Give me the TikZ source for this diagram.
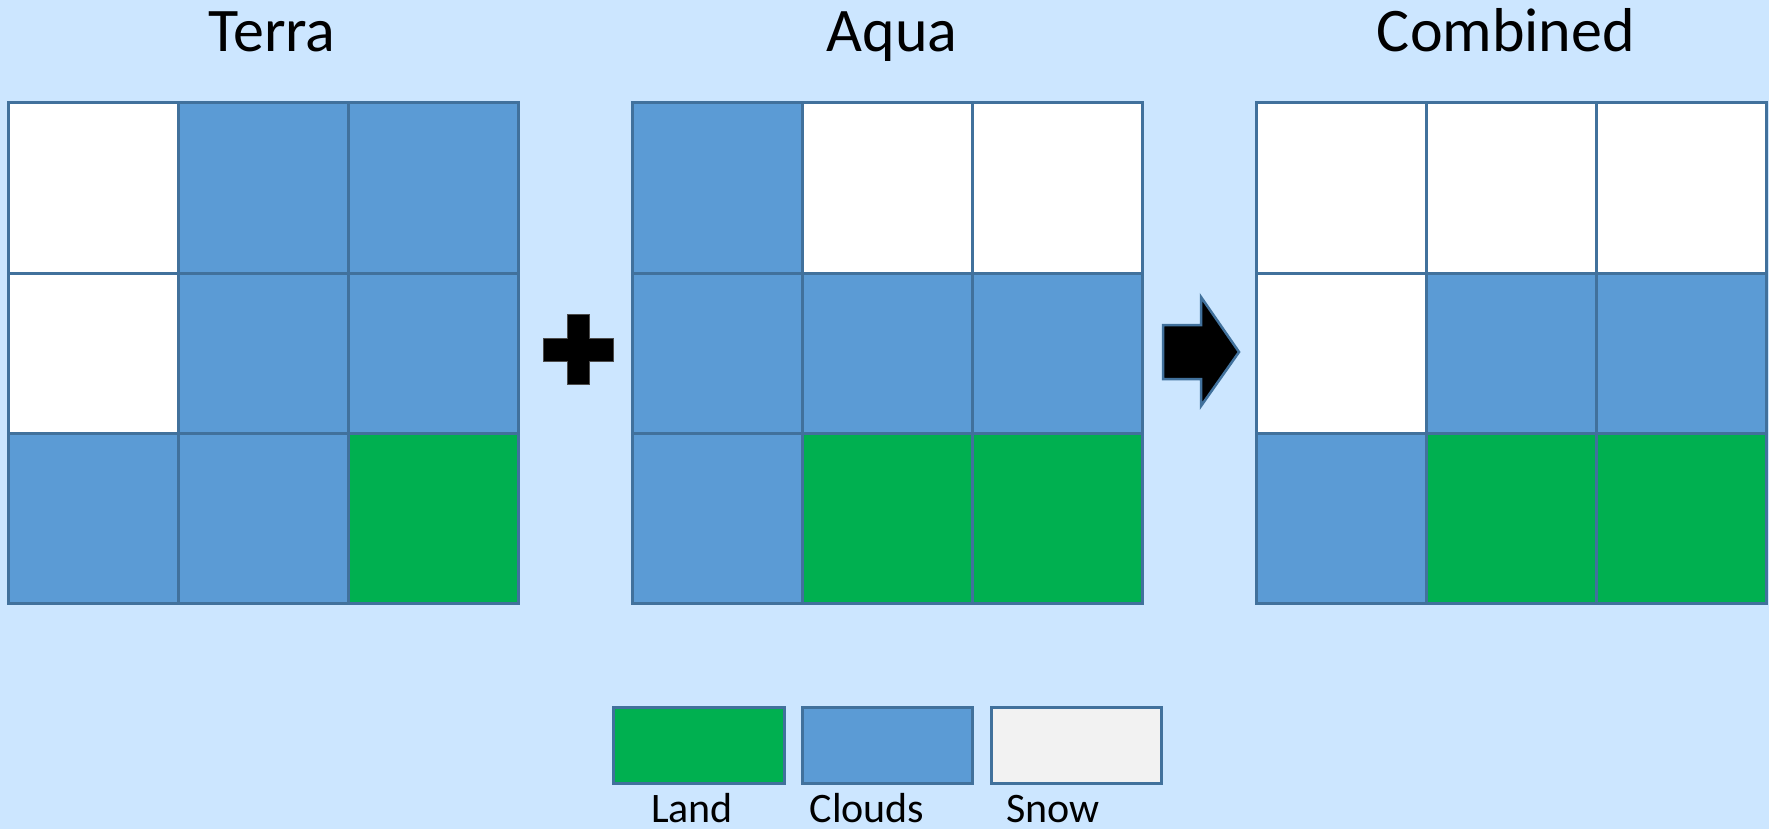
\documentclass[tikz,border=0pt]{standalone}
\usepackage{fontspec}
\setmainfont{Carlito}
\definecolor{bg}{HTML}{CCE6FF}
\definecolor{cl}{HTML}{5B9BD5}
\definecolor{ld}{HTML}{00B050}
\definecolor{sn}{HTML}{FFFFFF}
\definecolor{snl}{HTML}{F2F2F2}
\definecolor{bd}{HTML}{41719C}
\tikzset{
  cellbox/.style={draw=bd, line width=3pt},
  title/.style={anchor=base, inner sep=0pt, font=\fontsize{62}{70}\selectfont},
  legtext/.style={anchor=base, inner sep=0pt, font=\fontsize{42}{48}\selectfont},
}
\begin{document}
\begin{tikzpicture}[x=1pt,y=-1pt]
\useasboundingbox[fill=bg] (0,0) rectangle (1769,829);
% titles
\node[title] (tterra) at (272,52) {Terra};
\node[title] (taqua) at (892,52) {Aqua};
\node[title] (tcomb) at (1506,52) {Combined};
% Terra grid
\foreach \x/\y/\w/\h/\c in {
  8/103/170/170/sn, 178/103/170/170/cl, 348/103/170/170/cl,
  8/273/170/160/sn, 178/273/170/160/cl, 348/273/170/160/cl,
  8/433/170/170/cl, 178/433/170/170/cl, 348/433/170/170/ld}
  \path[cellbox, fill=\c] (\x,\y) rectangle ++(\w,\h);
% Aqua grid
\foreach \x/\y/\w/\h/\c in {
  632/103/170/170/cl, 802/103/170/170/sn, 972/103/170/170/sn,
  632/273/170/160/cl, 802/273/170/160/cl, 972/273/170/160/cl,
  632/433/170/170/cl, 802/433/170/170/ld, 972/433/170/170/ld}
  \path[cellbox, fill=\c] (\x,\y) rectangle ++(\w,\h);
% Combined grid
\foreach \x/\y/\w/\h/\c in {
  1256/103/170/170/sn, 1426/103/170/170/sn, 1596/103/170/170/sn,
  1256/273/170/160/sn, 1426/273/170/160/cl, 1596/273/170/160/cl,
  1256/433/170/170/cl, 1426/433/170/170/ld, 1596/433/170/170/ld}
  \path[cellbox, fill=\c] (\x,\y) rectangle ++(\w,\h);
% plus sign
\path[fill=black, draw=black!70, line width=1pt]
  (567,314) -- (589,314) -- (589,338) -- (613,338) -- (613,361) -- (589,361)
  -- (589,384) -- (567,384) -- (567,361) -- (543,361) -- (543,338) -- (567,338) -- cycle;
% arrow
\path[fill=black, draw=bd, line width=2.5pt, line join=miter]
  (1163,325) -- (1201,325) -- (1201,297) -- (1239,352) -- (1201,406)
  -- (1201,379) -- (1163,379) -- cycle;
% legend
\path[cellbox, fill=ld] (613,707) rectangle (784,783);
\path[cellbox, fill=cl] (802,707) rectangle (972,783);
\path[cellbox, fill=snl] (991,707) rectangle (1161,783);
\node[legtext] (lland) at (692,822) {Land};
\node[legtext] (lcloud) at (867,822) {Clouds};
\node[legtext] (lsnow) at (1053,822) {Snow};
\end{tikzpicture}
\end{document}
